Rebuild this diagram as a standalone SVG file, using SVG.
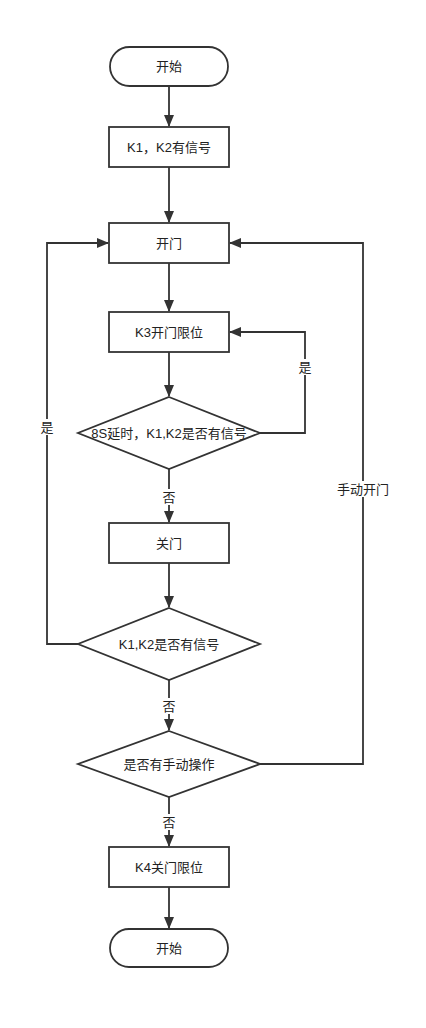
<svg xmlns="http://www.w3.org/2000/svg" width="426" height="1028" viewBox="0 0 426 1028">
<defs>
<marker id="arr" markerWidth="12" markerHeight="10" refX="11" refY="5" orient="auto" markerUnits="userSpaceOnUse">
<path d="M0,0 L12,5 L0,10 Z" fill="#333"/>
</marker>
<style>
.s{fill:#fff;stroke:#333;stroke-width:1.8}
.c{fill:none;stroke:#333;stroke-width:1.8}
.t{font-family:"Liberation Sans","Noto Sans CJK SC",sans-serif;font-size:13px;fill:#222;text-anchor:middle;dominant-baseline:central}
.lb{fill:#fff}
</style>
</defs>
<rect width="426" height="1028" fill="#fff"/>
<g id="connectors">
<path class="c" d="M169,86 V126" marker-end="url(#arr)"/>
<path class="c" d="M169,167 V222" marker-end="url(#arr)"/>
<path class="c" d="M169,263 V311" marker-end="url(#arr)"/>
<path class="c" d="M169,352 V396" marker-end="url(#arr)"/>
<path class="c" d="M169,469 V522" marker-end="url(#arr)"/>
<path class="c" d="M169,563 V607" marker-end="url(#arr)"/>
<path class="c" d="M169,680 V730" marker-end="url(#arr)"/>
<path class="c" d="M169,797 V846" marker-end="url(#arr)"/>
<path class="c" d="M169,887 V928" marker-end="url(#arr)"/>
<path class="c" d="M260,433 H305 V332 H230" marker-end="url(#arr)"/>
<path class="c" d="M78,644 H47 V243 H108" marker-end="url(#arr)"/>
<path class="c" d="M260,764 H363 V243 H230" marker-end="url(#arr)"/>
<rect class="lb" x="161" y="489" width="16" height="16"/>
<text class="t" x="169" y="497">否</text>
<rect class="lb" x="161" y="698" width="16" height="16"/>
<text class="t" x="169" y="706">否</text>
<rect class="lb" x="161" y="814" width="16" height="16"/>
<text class="t" x="169" y="822">否</text>
<rect class="lb" x="297" y="359" width="16" height="16"/>
<text class="t" x="305" y="367">是</text>
<rect class="lb" x="39" y="419" width="16" height="16"/>
<text class="t" x="47" y="427">是</text>
<rect class="lb" x="335" y="481" width="56" height="16"/>
<text class="t" x="363" y="489">手动开门</text>
</g>
<g id="start"><rect class="s" x="110" y="47" width="118" height="39" rx="19.5"/><text class="t" x="169" y="66.5">开始</text></g>
<g id="k1k2"><rect class="s" x="109" y="127" width="120" height="40"/><text class="t" x="169" y="147">K1，K2有信号</text></g>
<g id="open"><rect class="s" x="109" y="223" width="120" height="40"/><text class="t" x="169" y="243">开门</text></g>
<g id="k3"><rect class="s" x="109" y="312" width="120" height="40"/><text class="t" x="169" y="332">K3开门限位</text></g>
<g id="d1"><polygon class="s" points="169,397 260,433 169,469 78,433"/><text class="t" x="169" y="433">8S延时，K1,K2是否有信号</text></g>
<g id="close"><rect class="s" x="109" y="523" width="120" height="40"/><text class="t" x="169" y="543">关门</text></g>
<g id="d2"><polygon class="s" points="169,608 260,644 169,680 78,644"/><text class="t" x="169" y="644">K1,K2是否有信号</text></g>
<g id="d3"><polygon class="s" points="169,731 260,764 169,797 78,764"/><text class="t" x="169" y="764">是否有手动操作</text></g>
<g id="k4"><rect class="s" x="109" y="847" width="120" height="40"/><text class="t" x="169" y="867">K4关门限位</text></g>
<g id="end"><rect class="s" x="110" y="929" width="118" height="38" rx="19"/><text class="t" x="169" y="948">开始</text></g>
</svg>
